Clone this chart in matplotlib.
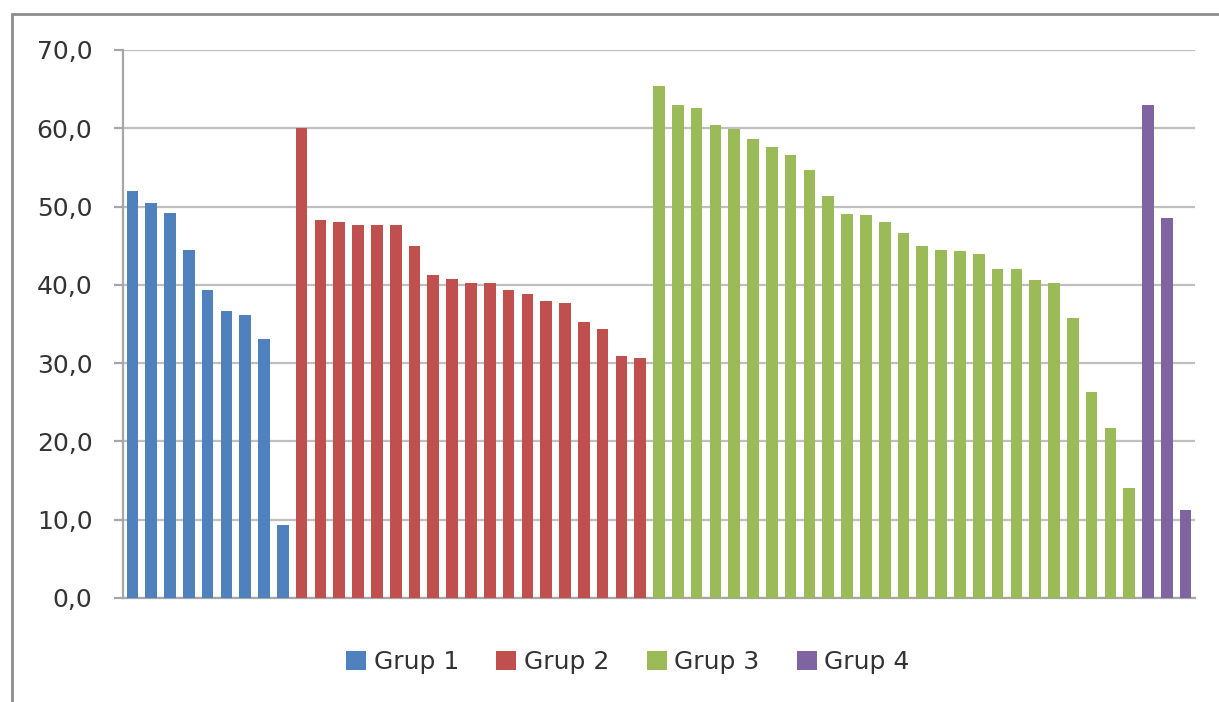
import matplotlib.pyplot as plt
from matplotlib.patches import Rectangle, Patch
from matplotlib.ticker import FuncFormatter, MultipleLocator

# Valors de cada grup (llegits del gràfic)
grup1 = [52.0, 50.4, 49.2, 44.4, 39.4, 36.7, 36.1, 33.1, 9.3]
grup2 = [60.0, 48.3, 48.0, 47.6, 47.6, 47.6, 44.9, 41.2, 40.8, 40.2,
         40.2, 39.4, 38.8, 37.9, 37.7, 35.2, 34.4, 30.9, 30.6]
grup3 = [65.4, 63.0, 62.6, 60.4, 59.9, 58.6, 57.6, 56.6, 54.7, 51.4,
         49.0, 48.9, 48.0, 46.6, 45.0, 44.5, 44.3, 43.9, 42.0, 42.0,
         40.6, 40.3, 35.8, 26.3, 21.7, 14.0]
grup4 = [63.0, 48.5, 11.2]

noms = ["Grup 1", "Grup 2", "Grup 3", "Grup 4"]
colors = ["#4F81BD", "#C0504D", "#9BBB59", "#8064A2"]
yticks = [0, 10, 20, 30, 40, 50, 60, 70]

fig = plt.figure(figsize=(12.19, 7.02), dpi=100)
ax = fig.add_axes([123 / 1219, 104 / 702, 1072 / 1219, 548 / 702])

# marc del gràfic (vora esquerra i superior)
fig.patches.append(Rectangle((12 / 1219, -0.1), 1.2, (702 - 14) / 702 + 0.1,
                             transform=fig.transFigure, fill=False,
                             edgecolor="#8C8C8C", linewidth=2))

start = 0
for vals, nom, col in zip([grup1, grup2, grup3, grup4], noms, colors):
    xs = list(range(start, start + len(vals)))
    ax.bar(xs, vals, width=0.62, color=col, label=nom, zorder=3)
    start += len(vals)

ax.set_xlim(-0.5, start - 0.5)
ax.set_ylim(0, 70)
ax.set_yticks(yticks)
ax.yaxis.set_major_formatter(FuncFormatter(lambda v, p: f"{v:.1f}".replace(".", ",")))
ax.set_xticks([])

ax.grid(axis="y", color="#BFBFBF", linewidth=1.6, zorder=0)
for s in ["top", "right"]:
    ax.spines[s].set_visible(False)
ax.spines["left"].set_color("#A6A6A6")
ax.spines["left"].set_linewidth(1.6)
ax.spines["bottom"].set_color("#A6A6A6")
ax.spines["bottom"].set_linewidth(1.6)
ax.tick_params(axis="y", length=6.5, width=1.6, color="#A6A6A6",
               pad=15.5, labelsize=18, labelcolor="#333333")

handles = [Patch(facecolor=c, edgecolor="none") for c in colors]
fig.legend(handles, noms, loc="center", bbox_to_anchor=(628 / 1219, 1 - 662 / 702),
           ncol=4, frameon=False, fontsize=18, handlelength=0.8, handleheight=0.8,
           handletextpad=0.3, columnspacing=1.5, labelcolor="#333333")

fig.savefig("out.png", dpi=100, facecolor="white")
